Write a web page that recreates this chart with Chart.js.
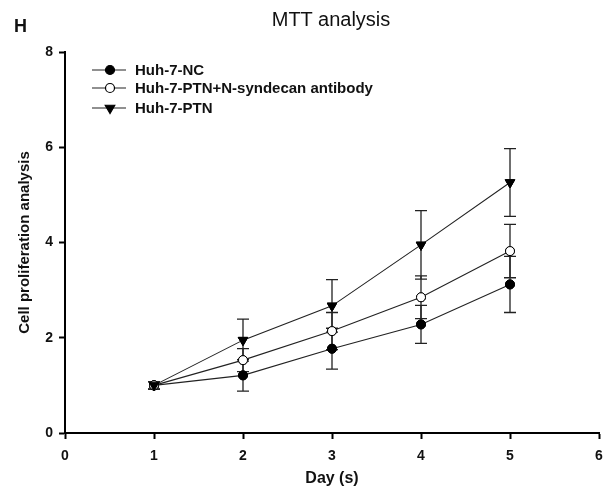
<!DOCTYPE html>
<html>
<head>
<meta charset="utf-8">
<script src="https://cdn.jsdelivr.net/npm/chart.js@4"></script>
<style>
  html, body { margin: 0; padding: 0; background: #fff; }
  #wrap { position: relative; width: 612px; height: 492px; }
  #c { position: absolute; left: 0; top: 0; }
  .lbl { position: absolute; font-family: "Liberation Sans", Arial, sans-serif; line-height: 1; white-space: nowrap; color: #111; }
</style>
</head>
<body>
<div id="wrap">
  <canvas id="c" width="612" height="492"></canvas>
  <div class="lbl" style="left:14px; top:17px; font-size:18px; font-weight:bold;">H</div>
  <div class="lbl" style="left:331px; top:9px; font-size:20px; transform:translateX(-50%);">MTT analysis</div>
</div>
<script>
const days = [1, 2, 3, 4, 5];
const seriesNames = ["Huh-7-NC", "Huh-7-PTN+N-syndecan antibody", "Huh-7-PTN"];
const ncValues  = [1.00, 1.21, 1.77, 2.28, 3.12];
const ncErrors  = [0.08, 0.33, 0.43, 0.40, 0.59];
const abValues  = [1.00, 1.53, 2.14, 2.85, 3.82];
const abErrors  = [0.08, 0.24, 0.39, 0.45, 0.56];
const ptnValues = [1.00, 1.95, 2.67, 3.95, 5.26];
const ptnErrors = [0.08, 0.44, 0.55, 0.72, 0.71];
const xTicks = [0, 1, 2, 3, 4, 5, 6];
const yTicks = [0, 2, 4, 6, 8];

const FONT = "'Liberation Sans', Arial, sans-serif";
const LINE = '#222';

function pts(vals) { return days.map((d, i) => ({ x: d, y: vals[i] })); }

const errorBars = {
  id: 'errorBars',
  afterDatasetsDraw(chart) {
    const ctx = chart.ctx;
    const ys = chart.scales.y, xs = chart.scales.x;
    ctx.save();
    ctx.strokeStyle = LINE;
    ctx.lineWidth = 1.3;
    chart.data.datasets.forEach((ds) => {
      ds.data.forEach((p, i) => {
        const e = ds.errors[i];
        const x = xs.getPixelForValue(p.x);
        const yt = ys.getPixelForValue(p.y + e);
        const yb = ys.getPixelForValue(p.y - e);
        ctx.beginPath();
        ctx.moveTo(x, yt); ctx.lineTo(x, yb);
        ctx.moveTo(x - 6, yt); ctx.lineTo(x + 6, yt);
        ctx.moveTo(x - 6, yb); ctx.lineTo(x + 6, yb);
        ctx.stroke();
      });
    });
    ctx.restore();
    chart.data.datasets.forEach((ds, di) => {
      const meta = chart.getDatasetMeta(di);
      meta.data.forEach(el => el.draw(ctx, chart.chartArea));
    });
  }
};

const legendInside = {
  id: 'legendInside',
  afterDraw(chart) {
    const ctx = chart.ctx;
    const ca = chart.chartArea;
    const rowsY = [ca.top + 18, ca.top + 36, ca.top + 56];
    const x0 = ca.left + 27, x1 = ca.left + 61, xm = ca.left + 45, xt = ca.left + 70;
    ctx.save();
    chart.data.datasets.forEach((ds, i) => {
      const y = rowsY[i];
      ctx.strokeStyle = LINE; ctx.lineWidth = 1.2;
      ctx.beginPath(); ctx.moveTo(x0, y); ctx.lineTo(x1, y); ctx.stroke();
      ctx.fillStyle = ds.pointBackgroundColor;
      ctx.strokeStyle = '#000';
      Chart.helpers.drawPoint(ctx, {
        pointStyle: ds.pointStyle, radius: ds.pointRadius,
        rotation: ds.pointRotation || 0, borderWidth: 1
      }, xm, y);
      ctx.fillStyle = '#111';
      ctx.font = 'bold 15px ' + FONT;
      ctx.textBaseline = 'middle';
      ctx.textAlign = 'left';
      ctx.fillText(ds.label, xt, y + 1);
    });
    ctx.restore();
  }
};

function ds(label, vals, errs, style, fill, radius, rot) {
  return {
    label, data: pts(vals), errors: errs,
    borderColor: LINE, borderWidth: 1.1,
    pointStyle: style, pointRadius: radius, pointHoverRadius: radius,
    pointRotation: rot, pointBackgroundColor: fill, pointBorderColor: '#000',
    pointBorderWidth: 1, tension: 0, fill: false
  };
}

new Chart(document.getElementById('c'), {
  type: 'line',
  data: {
    datasets: [
      ds(seriesNames[0], ncValues, ncErrors, 'circle', '#000', 4.5, 0),
      ds(seriesNames[1], abValues, abErrors, 'circle', '#fff', 4.5, 0),
      ds(seriesNames[2], ptnValues, ptnErrors, 'triangle', '#000', 5.5, 180)
    ]
  },
  options: {
    responsive: false,
    animation: false,
    layout: { padding: { left: 0, right: 13, top: 52, bottom: 0 } },
    plugins: { legend: { display: false }, tooltip: { enabled: false }, title: { display: false } },
    scales: {
      x: {
        type: 'linear', min: 0, max: 6,
        afterBuildTicks(s) { s.ticks = xTicks.map(v => ({ value: v })); },
        afterFit(s) { s.height = 59; },
        border: { display: true, width: 2, color: '#000' },
        grid: { drawOnChartArea: false, drawTicks: true, tickLength: 6, tickWidth: 2, tickColor: '#000' },
        ticks: { color: '#111', font: { family: FONT, size: 14, weight: 'bold' }, padding: 9, maxRotation: 0 },
        title: { display: true, text: 'Day (s)', color: '#111', font: { family: FONT, size: 16, weight: 'bold' }, padding: { top: 4, bottom: 4 } }
      },
      y: {
        type: 'linear', min: 0, max: 8,
        afterBuildTicks(s) { s.ticks = yTicks.map(v => ({ value: v })); },
        afterFit(s) { s.width = 65; },
        border: { display: true, width: 2, color: '#000' },
        grid: { drawOnChartArea: false, drawTicks: true, tickLength: 6, tickWidth: 2, tickColor: '#000' },
        ticks: { color: '#111', font: { family: FONT, size: 14, weight: 'bold' }, padding: 6 },
        title: { display: true, text: 'Cell proliferation analysis', color: '#111', font: { family: FONT, size: 15, weight: 'bold' }, padding: { top: 16, bottom: 4 } }
      }
    }
  },
  plugins: [errorBars, legendInside]
});
</script>
</body>
</html>
